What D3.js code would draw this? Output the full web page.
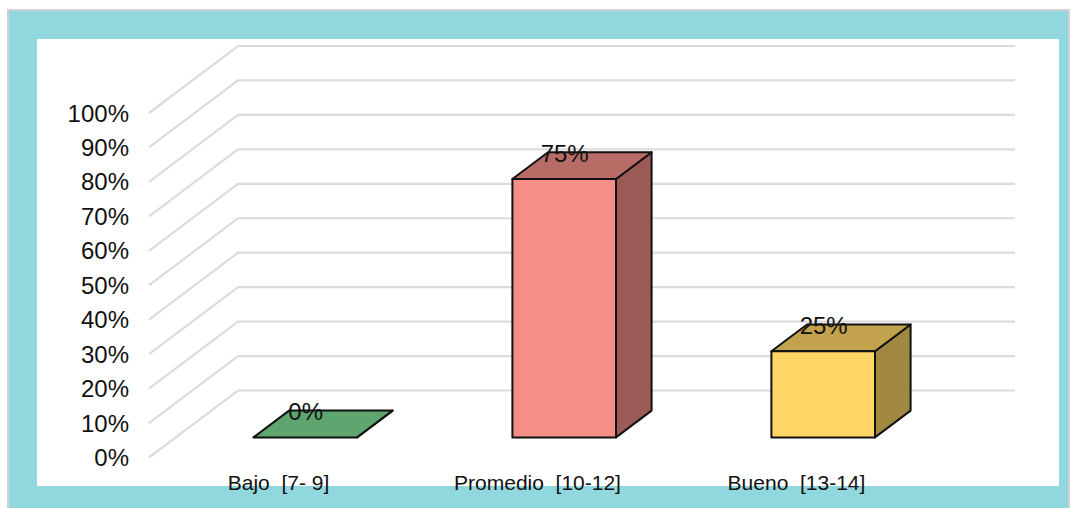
<!DOCTYPE html>
<html><head><meta charset="utf-8">
<style>html,body{margin:0;padding:0;background:#fff}svg{display:block}text{font-family:"Liberation Sans",Arial,sans-serif;fill:#111}</style>
<script src="https://cdn.jsdelivr.net/npm/d3@7"></script></head><body>
<svg id="c" width="1073" height="508"></svg>
<script>
const categories = ["Bajo  [7- 9]", "Promedio  [10-12]", "Bueno  [13-14]"];
const values = [0, 75, 25];
const valueLabels = ["0%", "75%", "25%"];
const ticks = [0,10,20,30,40,50,60,70,80,90,100];
const fronts = ["#5EA56F", "#F58E87", "#FFD666"];
const tops = ["#5EA56F", "#B86C66", "#C2A24C"];
const sides = ["#4B8459", "#9A5A56", "#A08840"];

const svg = d3.select("#c");
// frame
svg.append("rect").attr("x",8).attr("y",10).attr("width",1061).attr("height",499).attr("fill","#91D7DE").attr("stroke","#d2d2d2").attr("stroke-width",2);
svg.append("rect").attr("x",37).attr("y",39).attr("width",1022).attr("height",447).attr("fill","#fff");

const y = d3.scaleLinear().domain([0,100]).range([457.5,113]);
const x = d3.scaleBand().domain(categories).range([149,926]).paddingInner(0.6).paddingOuter(0.3);
const dx = 89, dy = -67;          // full depth of the 3-D floor
const f0 = 0.3, f1 = 0.7;         // bar depth position

// gridlines
ticks.forEach(t=>{
  svg.append("polyline").attr("fill","none").attr("stroke","#DCDCDC").attr("stroke-width",2.2)
    .attr("points",[[149,y(t)],[149+dx,y(t)+dy],[1015,y(t)+dy]].map(p=>p.join(",")).join(" "));
  svg.append("text").attr("x",129).attr("y",y(t)+8.5).attr("text-anchor","end").attr("font-size",24).text(t+"%");
});

// bars
categories.forEach((c,i)=>{
  const l = x(c)+f0*dx, r = l+x.bandwidth(), b = y(0)+f0*dy, t = y(values[i])+f0*dy;
  const ox = (f1-f0)*dx, oy = (f1-f0)*dy;
  const g = svg.append("g").attr("stroke","#111").attr("stroke-width",2).attr("stroke-linejoin","round");
  const pts = a=>a.map(p=>p.join(",")).join(" ");
  g.append("polygon").attr("points",pts([[r,t],[r+ox,t+oy],[r+ox,b+oy],[r,b]])).attr("fill",sides[i]);
  g.append("polygon").attr("points",pts([[l,t],[l+ox,t+oy],[r+ox,t+oy],[r,t]])).attr("fill",tops[i]);
  if(values[i]>0) g.append("rect").attr("x",l).attr("y",t).attr("width",r-l).attr("height",b-t).attr("fill",fronts[i]);
  svg.append("text").attr("x",(l+r)/2+0.5).attr("y",t-17).attr("text-anchor","middle").attr("font-size",24).text(valueLabels[i]);
  svg.append("text").attr("x",x(c)+x.bandwidth()/2).attr("y",490).attr("text-anchor","middle").attr("font-size",21).attr("xml:space","preserve").style("white-space","pre").text(c);
});
</script></body></html>
